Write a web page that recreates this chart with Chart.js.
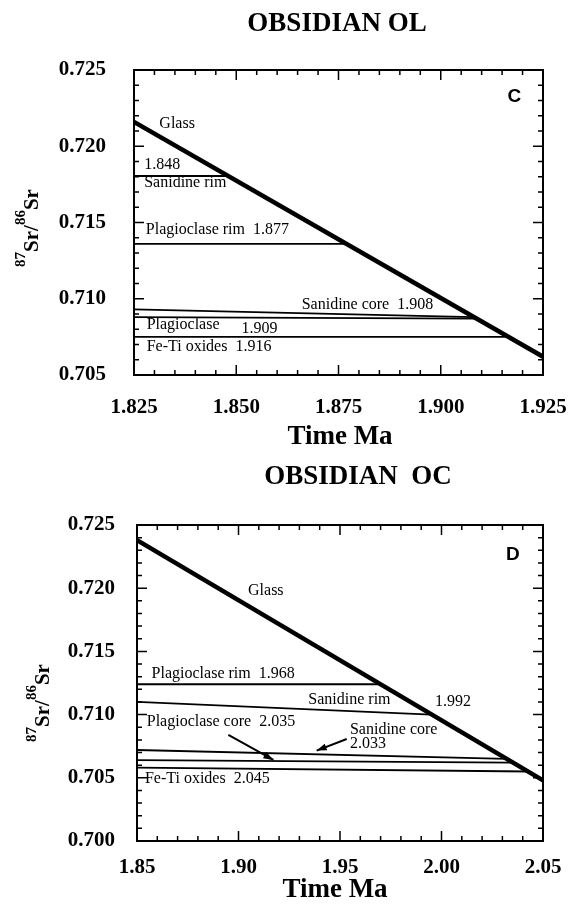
<!DOCTYPE html>
<html lang="en">
<head>
<meta charset="UTF-8">
<title>Obsidian OL / OC - 87Sr/86Sr vs time</title>
<script src="https://cdn.jsdelivr.net/npm/chart.js"></script>
<style>
  html, body { margin: 0; padding: 0; background: #fff; }
  canvas { display: block; }
</style>
</head>
<body>
<canvas id="olChart" width="568" height="452"></canvas>
<canvas id="ocChart" width="568" height="453"></canvas>
<script>
// ---- Obsidian OL (panel C) ----
const olPhases   = ['Glass', 'Sanidine rim', 'Plagioclase rim', 'Sanidine core', 'Plagioclase', 'Fe-Ti oxides'];
const olTimeFrom = [1.825, 1.825, 1.825, 1.825, 1.825, 1.825];
const olTimeTo   = [1.925, 1.848, 1.877, 1.908, 1.909, 1.916];
const olSrFrom   = [0.7216, 0.71805, 0.7136, 0.7093, 0.7088, 0.7075];
const olSrTo     = [0.7062, 0.71805, 0.7136, 0.7088, 0.7087, 0.7075];
const olXTicks   = [1.825, 1.850, 1.875, 1.900, 1.925];
const olYTicks   = [0.705, 0.710, 0.715, 0.720, 0.725];

// ---- Obsidian OC (panel D) ----
const ocPhases   = ['Glass', 'Plagioclase rim', 'Sanidine rim', 'Sanidine core', 'Plagioclase core', 'Fe-Ti oxides'];
const ocTimeFrom = [1.85, 1.85, 1.85, 1.85, 1.85, 1.85];
const ocTimeTo   = [2.05, 1.970, 1.995, 2.032, 2.035, 2.043];
const ocSrFrom   = [0.7238, 0.7124, 0.7110, 0.7072, 0.7064, 0.7058];
const ocSrTo     = [0.7048, 0.7124, 0.7100, 0.7065, 0.7062, 0.7055];
const ocXTicks   = [1.85, 1.90, 1.95, 2.00, 2.05];
const ocYTicks   = [0.700, 0.705, 0.710, 0.715, 0.720, 0.725];

const SERIF = '"Liberation Serif", "Times New Roman", serif';

function drawSrTitle(ctx, baseX, midY) {
  // 87Sr/86Sr, rotated, with superscript mass numbers
  const big = 'bold 21px ' + SERIF, small = 'bold 15px ' + SERIF;
  const parts = [['87', small, -13], ['Sr', big, 0], ['/', big, 0], ['86', small, -13], ['Sr', big, 0]];
  ctx.save();
  ctx.translate(baseX, midY);
  ctx.rotate(-Math.PI / 2);
  let total = 0;
  parts.forEach(p => { ctx.font = p[1]; total += ctx.measureText(p[0]).width; });
  let x = -total / 2;
  ctx.textBaseline = 'alphabetic';
  ctx.textAlign = 'left';
  parts.forEach(p => {
    ctx.font = p[1];
    ctx.fillText(p[0], x, p[2]);
    x += ctx.measureText(p[0]).width;
  });
  ctx.restore();
}

const paperPlugin = {
  id: 'paper',
  afterDraw(chart, args, o) {
    const ctx = chart.ctx, a = chart.chartArea, xs = chart.scales.x, ys = chart.scales.y;
    ctx.save();
    ctx.fillStyle = '#000';
    ctx.strokeStyle = '#000';

    // box
    ctx.lineWidth = 2;
    ctx.strokeRect(a.left, a.top, a.right - a.left, a.bottom - a.top);

    // inward ticks on all four sides
    ctx.lineWidth = 1.5;
    const sideTicks = (scale, minor, major, horiz) => {
      const n = Math.round((scale.max - scale.min) / minor);
      for (let i = 0; i <= n; i++) {
        const v = scale.min + i * minor;
        const r = (v - scale.min) / major;
        const len = Math.abs(r - Math.round(r)) < 1e-6 ? 10 : 5;
        const p = scale.getPixelForValue(v);
        ctx.beginPath();
        if (horiz) {
          ctx.moveTo(p, a.bottom); ctx.lineTo(p, a.bottom - len);
          ctx.moveTo(p, a.top); ctx.lineTo(p, a.top + len);
        } else {
          ctx.moveTo(a.left, p); ctx.lineTo(a.left + len, p);
          ctx.moveTo(a.right, p); ctx.lineTo(a.right - len, p);
        }
        ctx.stroke();
      }
    };
    sideTicks(xs, o.xMinor, o.xMajor, true);
    sideTicks(ys, o.yMinor, o.yMajor, false);

    // panel title and axis titles
    ctx.textAlign = 'center';
    ctx.textBaseline = 'middle';
    ctx.font = 'bold 27px ' + SERIF;
    ctx.fillText(o.title, o.titleX, o.titleY);
    ctx.fillText('Time Ma', o.xTitleX, o.xTitleY);
    drawSrTitle(ctx, o.yTitleX, o.yTitleY);

    // panel letter
    ctx.font = 'bold 19px "Liberation Sans", Arial, sans-serif';
    ctx.fillText(o.letter[0], xs.getPixelForValue(o.letter[1]), ys.getPixelForValue(o.letter[2]));

    // phase labels
    ctx.textAlign = 'left';
    ctx.font = '16px ' + SERIF;
    o.notes.forEach(n => ctx.fillText(n[0], xs.getPixelForValue(n[1]), ys.getPixelForValue(n[2])));

    // arrows
    ctx.lineWidth = 2;
    o.arrows.forEach(ar => {
      const x0 = xs.getPixelForValue(ar[0]), y0 = ys.getPixelForValue(ar[1]);
      const x1 = xs.getPixelForValue(ar[2]), y1 = ys.getPixelForValue(ar[3]);
      const ang = Math.atan2(y1 - y0, x1 - x0);
      ctx.beginPath(); ctx.moveTo(x0, y0); ctx.lineTo(x1, y1); ctx.stroke();
      ctx.beginPath();
      ctx.moveTo(x1, y1);
      ctx.lineTo(x1 - 10 * Math.cos(ang) + 3.5 * Math.sin(ang), y1 - 10 * Math.sin(ang) - 3.5 * Math.cos(ang));
      ctx.lineTo(x1 - 10 * Math.cos(ang) - 3.5 * Math.sin(ang), y1 - 10 * Math.sin(ang) + 3.5 * Math.cos(ang));
      ctx.closePath(); ctx.fill();
    });
    ctx.restore();
  }
};

function makePanel(id, s) {
  const datasets = s.phases.map((name, i) => ({
    label: name,
    data: [{ x: s.timeFrom[i], y: s.srFrom[i] }, { x: s.timeTo[i], y: s.srTo[i] }],
    showLine: true,
    borderColor: '#000',
    backgroundColor: '#000',
    borderWidth: name === 'Glass' ? 4.5 : 1.8,
    pointRadius: 0,
    fill: false
  }));
  const tickFont = { family: SERIF, size: 21, weight: 'bold' };
  return new Chart(document.getElementById(id), {
    type: 'scatter',
    data: { datasets },
    plugins: [paperPlugin],
    options: {
      responsive: false,
      animation: false,
      layout: { padding: { top: s.padTop, right: 25, left: 0, bottom: 0 } },
      plugins: {
        legend: { display: false },
        tooltip: { enabled: false },
        paper: s.paper
      },
      scales: {
        x: {
          type: 'linear', min: s.xTicks[0], max: s.xTicks[s.xTicks.length - 1],
          grid: { display: false, drawTicks: false }, border: { display: false },
          ticks: { color: '#000', font: tickFont, padding: s.xPad, maxRotation: 0, autoSkip: false,
                   callback: v => v.toFixed(s.xDec) },
          afterBuildTicks: sc => { sc.ticks = s.xTicks.map(v => ({ value: v })); },
          afterFit: sc => { sc.height = s.xAxisH; sc.paddingLeft = 0; sc.paddingRight = 0; }
        },
        y: {
          type: 'linear', min: s.yTicks[0], max: s.yTicks[s.yTicks.length - 1],
          grid: { display: false, drawTicks: false }, border: { display: false },
          ticks: { color: '#000', font: tickFont, padding: s.yPad,
                   callback: v => v.toFixed(3) },
          afterBuildTicks: sc => { sc.ticks = s.yTicks.map(v => ({ value: v })); },
          afterFit: sc => { sc.width = s.yAxisW; sc.paddingTop = 0; sc.paddingBottom = 0; }
        }
      }
    }
  });
}

makePanel('olChart', {
  phases: olPhases, timeFrom: olTimeFrom, timeTo: olTimeTo, srFrom: olSrFrom, srTo: olSrTo,
  xTicks: olXTicks, yTicks: olYTicks, xDec: 3,
  padTop: 70, xAxisH: 77, yAxisW: 134, xPad: 20, yPad: 28,
  paper: {
    xMinor: 0.005, xMajor: 0.025, yMinor: 0.001, yMajor: 0.005,
    title: 'OBSIDIAN OL', titleX: 337, titleY: 24,
    xTitleX: 340, xTitleY: 437, yTitleX: 38, yTitleY: 228,
    letter: ['C', 1.9180, 0.72325],
    notes: [
      ['Glass', 1.8312, 0.7215],
      ['1.848', 1.8275, 0.7188],
      ['Sanidine rim', 1.8275, 0.7176],
      ['Plagioclase rim  1.877', 1.8279, 0.71455],
      ['Sanidine core  1.908', 1.8660, 0.7096],
      ['Plagioclase', 1.8281, 0.70828],
      ['1.909', 1.8513, 0.70806],
      ['Fe-Ti oxides  1.916', 1.8281, 0.70686]
    ],
    arrows: []
  }
});

makePanel('ocChart', {
  phases: ocPhases, timeFrom: ocTimeFrom, timeTo: ocTimeTo, srFrom: ocSrFrom, srTo: ocSrTo,
  xTicks: ocXTicks, yTicks: ocYTicks, xDec: 2,
  padTop: 73, xAxisH: 64, yAxisW: 137, xPad: 14, yPad: 22,
  paper: {
    xMinor: 0.01, xMajor: 0.05, yMinor: 0.001, yMajor: 0.005,
    title: 'OBSIDIAN  OC', titleX: 358, titleY: 25,
    xTitleX: 335, xTitleY: 438, yTitleX: 49, yTitleY: 251,
    letter: ['D', 2.0351, 0.72266],
    notes: [
      ['Glass', 1.9047, 0.7198],
      ['Plagioclase rim  1.968', 1.8572, 0.7132],
      ['Sanidine rim', 1.9344, 0.7112],
      ['1.992', 1.9968, 0.7110],
      ['Plagioclase core  2.035', 1.8548, 0.7094],
      ['Sanidine core', 1.9549, 0.7088],
      ['2.033', 1.9549, 0.7077],
      ['Fe-Ti oxides  2.045', 1.8539, 0.7049]
    ],
    arrows: [
      [1.8950, 0.70839, 1.9172, 0.70641],
      [1.9533, 0.70807, 1.9385, 0.70715]
    ]
  }
});
</script>
</body>
</html>
